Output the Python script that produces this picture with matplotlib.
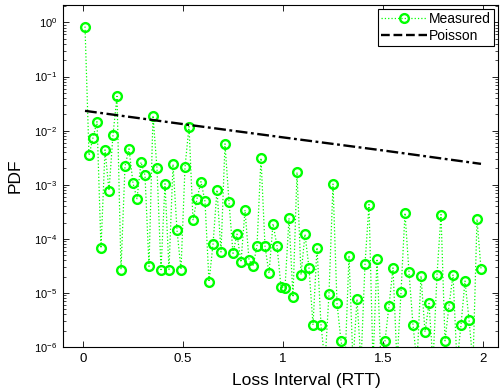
import matplotlib
matplotlib.use("Agg")
import matplotlib.pyplot as plt
from matplotlib.lines import Line2D
from matplotlib.ticker import LogLocator, FixedLocator
import numpy as np

plt.rcParams['font.family'] = ['Liberation Sans', 'DejaVu Sans']
plt.rcParams['mathtext.fontset'] = 'custom'
plt.rcParams['mathtext.rm'] = 'Liberation Sans'
plt.rcParams['mathtext.it'] = 'Liberation Sans:italic'
plt.rcParams['mathtext.default'] = 'regular'

# Measured loss-interval PDF (bins of 0.02 RTT, centres 0.01 ... 1.99)
loss_interval = [0.01 + 0.02 * i for i in range(100)]
measured_pdf = [
    0.84, 3.5e-3, 7.4e-3, 1.47e-2, 6.7e-5, 4.4e-3, 7.8e-4, 8.4e-3, 4.3e-2, 2.7e-5,
    2.2e-3, 4.6e-3, 1.07e-3, 5.5e-4, 2.6e-3, 1.5e-3, 3.1e-5, 1.9e-2, 2.0e-3, 2.7e-5,
    1.04e-3, 2.7e-5, 2.4e-3, 1.44e-4, 2.7e-5, 2.1e-3, 1.19e-2, 2.2e-4, 5.5e-4, 1.14e-3,
    4.9e-4, 1.6e-5, 7.9e-5, 8.0e-4, 5.7e-5, 5.7e-3, 4.8e-4, 5.4e-5, 1.22e-4, 3.7e-5,
    3.4e-4, 4.1e-5, 3.1e-5, 7.4e-5, 3.1e-3, 7.3e-5, 2.3e-5, 1.9e-4, 7.4e-5, 1.3e-5,
    1.24e-5, 2.4e-4, 8.4e-6, 1.7e-3, 2.15e-5, 1.22e-4, 2.9e-5, 2.55e-6, 6.9e-5, 2.55e-6,
    5e-7, 9.7e-6, 1.03e-3, 6.4e-6, 1.3e-6, 5e-7, 4.9e-5, 5e-7, 7.7e-6, 5e-7,
    3.4e-5, 4.3e-4, 5e-7, 4.25e-5, 5e-7, 1.3e-6, 5.8e-6, 2.9e-5, 5e-7, 1.03e-5,
    3.0e-4, 2.4e-5, 2.55e-6, 5e-7, 2.06e-5, 1.9e-6, 6.4e-6, 5e-7, 2.15e-5, 2.8e-4,
    1.3e-6, 5.8e-6, 2.15e-5, 5e-7, 2.55e-6, 1.66e-5, 3.2e-6, 5e-7, 2.3e-4, 2.8e-5,
]

# Poisson reference line
poisson_x = [0.01, 0.5, 1.0, 1.5, 1.99]
poisson_pdf = [0.0232, 0.0132, 0.0075, 0.0043, 0.00243]

x_ticks = [0, 0.5, 1, 1.5, 2]
x_tick_labels = ["0", "0.5", "1", "1.5", "2"]

fig = plt.figure(figsize=(5.01, 3.89), dpi=100)
ax = fig.add_axes([63/501, 1 - 347/389, (498 - 63)/501, (347 - 5)/389])

green = '#00ff00'
ax.plot(loss_interval, measured_pdf, linestyle=':', color=green, linewidth=0.9,
        marker='o', markersize=6.3, markerfacecolor='none',
        markeredgecolor=green, markeredgewidth=1.7)
ax.plot(poisson_x, poisson_pdf, color='black', linewidth=1.7,
        dashes=(5, 1.5, 1.2, 1.5))

ax.set_yscale('log')
ax.set_xlim(-0.1, 2.075)
ax.set_ylim(1e-6, 2.1)
ax.xaxis.set_major_locator(FixedLocator(x_ticks))
ax.set_xticklabels(x_tick_labels)
ax.yaxis.set_major_locator(LogLocator(base=10, numticks=12))
ax.yaxis.set_minor_locator(LogLocator(base=10, subs=np.arange(2, 10), numticks=12))

ax.tick_params(which='both', direction='in', top=True, right=True)
ax.tick_params(axis='x', labelsize=9.5, pad=4)
ax.tick_params(axis='y', labelsize=8, pad=4)
ax.tick_params(which='major', length=4, width=0.6)
ax.tick_params(which='minor', length=2.2, width=0.5)
for s in ax.spines.values():
    s.set_linewidth(0.8)

ax.set_xlabel('Loss Interval (RTT)', fontsize=12.5)
ax.xaxis.set_label_coords(0.559, -0.075)
ax.set_ylabel('PDF', fontsize=12.5)
ax.yaxis.set_label_coords(-0.092, 0.5)

handles = [
    Line2D([], [], linestyle=':', color=green, linewidth=0.9, marker='o',
           markersize=6.3, markerfacecolor='none', markeredgecolor=green,
           markeredgewidth=1.7),
    Line2D([], [], linestyle='--', color='black', linewidth=1.7),
]
leg = ax.legend(handles, ['Measured', 'Poisson'], loc='upper right',
                fontsize=10, frameon=True, fancybox=False, framealpha=1,
                edgecolor='black', borderpad=0.2, labelspacing=0.2,
                handlelength=3.3, handletextpad=0.15, borderaxespad=0.3)
leg.get_frame().set_linewidth(0.8)

fig.savefig('out.png', dpi=100)
